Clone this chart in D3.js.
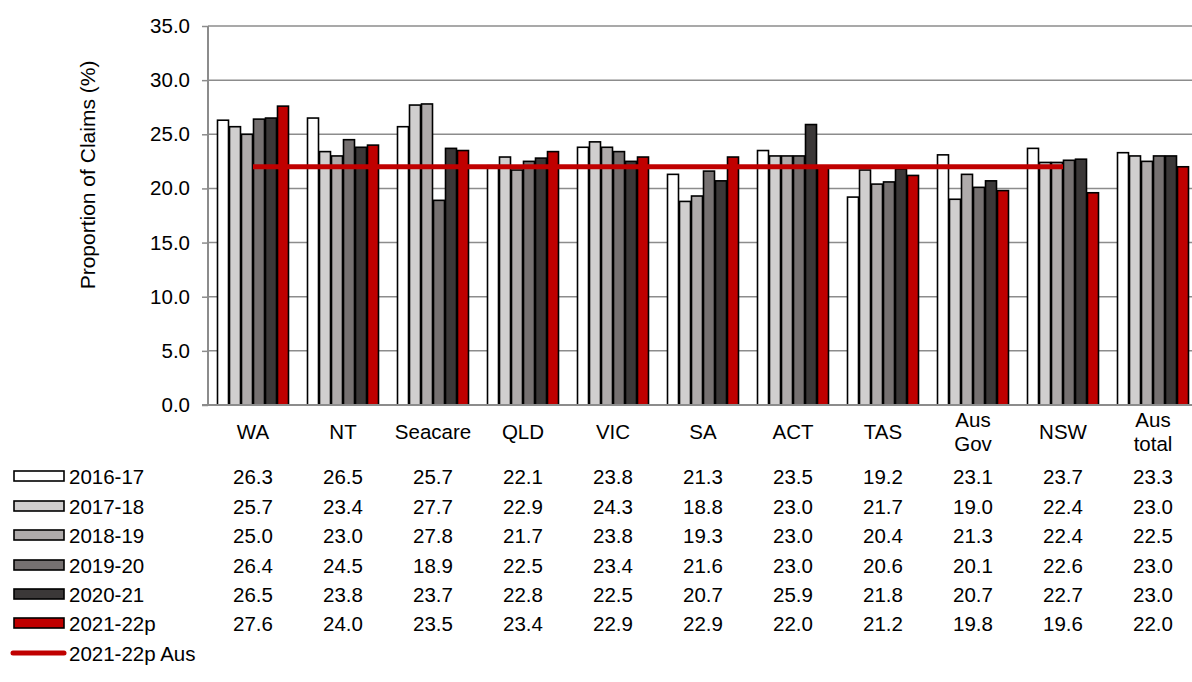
<!DOCTYPE html>
<html><head><meta charset="utf-8">
<script src="https://cdn.jsdelivr.net/npm/d3@7"></script>
<style>body{margin:0;background:#fff}svg{display:block;font-family:Arial,"Liberation Sans",sans-serif}</style>
</head><body>
<svg id="c" width="1192" height="682"></svg>
<script>
const categories = ["WA","NT","Seacare","QLD","VIC","SA","ACT","TAS","Aus\nGov","NSW","Aus\ntotal"];
const seriesNames = ["2016-17","2017-18","2018-19","2019-20","2020-21","2021-22p"];
const s2016 = [26.3,26.5,25.7,22.1,23.8,21.3,23.5,19.2,23.1,23.7,23.3];
const s2017 = [25.7,23.4,27.7,22.9,24.3,18.8,23.0,21.7,19.0,22.4,23.0];
const s2018 = [25.0,23.0,27.8,21.7,23.8,19.3,23.0,20.4,21.3,22.4,22.5];
const s2019 = [26.4,24.5,18.9,22.5,23.4,21.6,23.0,20.6,20.1,22.6,23.0];
const s2020 = [26.5,23.8,23.7,22.8,22.5,20.7,25.9,21.8,20.7,22.7,23.0];
const s2021 = [27.6,24.0,23.5,23.4,22.9,22.9,22.0,21.2,19.8,19.6,22.0];
const ausLine = [22.0,22.0,22.0,22.0,22.0,22.0,22.0,22.0,22.0,22.0,null];
const lineName = "2021-22p Aus";
const yTicks = [0,5,10,15,20,25,30,35];
const colors = ["#FFFFFF","#D0CECE","#AFABAB","#767171","#3B3838","#C00000"];
const series = [s2016,s2017,s2018,s2019,s2020,s2021];

(function(){
const svg = d3.select("#c");
const pL = 208, pT = 26, pB = 405;
const FS = 20.5;
const x0 = d3.scaleBand().domain(d3.range(categories.length)).range([pL, pL+90*categories.length]);
const y = d3.scaleLinear().domain([0,35]).range([pB, pT]);

// gridlines
svg.append("g").selectAll("line").data(yTicks.filter(d=>d>0)).join("line")
  .attr("x1", pL).attr("x2", 1192).attr("y1", d=>y(d)).attr("y2", d=>y(d))
  .attr("stroke","#8c8c8c").attr("stroke-width",1.5);

// y axis
const yAxis = d3.axisLeft(y).tickValues(yTicks).tickFormat(d3.format(".1f")).tickSize(6).tickPadding(12);
const ga = svg.append("g").attr("transform",`translate(${pL},0)`).call(yAxis);
ga.select(".domain").attr("stroke","#8c8c8c").attr("stroke-width",2).attr("d",`M0,${pT}V${pB}`);
ga.selectAll(".tick line").attr("stroke","#8c8c8c").attr("stroke-width",1.5);
ga.selectAll(".tick text").attr("font-size",FS).attr("fill","#000").attr("font-family","Arial, Liberation Sans, sans-serif");

// bars
const inner = d3.scaleBand().domain(d3.range(6)).range([0, 72]);
const groups = svg.append("g").selectAll("g").data(categories.map((c,i)=>i)).join("g")
  .attr("transform", i=>`translate(${x0(i)+x0.bandwidth()/2-36},0)`);
groups.selectAll("rect").data(i=>series.map((s,k)=>({k, v:s[i]}))).join("rect")
  .attr("x", d=>inner(d.k)+0.5).attr("width", inner.bandwidth()-1)
  .attr("y", d=>y(d.v)).attr("height", d=>y(0)-y(d.v))
  .attr("fill", d=>colors[d.k]).attr("stroke","#000").attr("stroke-width",1.6);

// x axis line
svg.append("line").attr("x1",pL-6).attr("x2",1192).attr("y1",pB).attr("y2",pB)
  .attr("stroke","#8c8c8c").attr("stroke-width",2);

// line series
const lineGen = d3.line().defined(d=>d!=null).x((d,i)=>x0(i)+x0.bandwidth()/2).y(d=>y(d));
svg.append("path").datum(ausLine).attr("d", lineGen).attr("fill","none")
  .attr("stroke","#C00000").attr("stroke-width",5);

// y title
svg.append("text").attr("transform","translate(95,175) rotate(-90)").attr("text-anchor","middle")
  .attr("font-size",21).text("Proportion of Claims (%)");

// category labels
categories.forEach((c,i)=>{
  const lines = c.split("\n");
  const cx = x0(i)+x0.bandwidth()/2;
  const t = svg.append("text").attr("text-anchor","middle").attr("font-size",FS);
  if(lines.length===1){
    t.append("tspan").attr("x",cx).attr("y",439).text(lines[0]);
  } else {
    t.append("tspan").attr("x",cx).attr("y",427).text(lines[0]);
    t.append("tspan").attr("x",cx).attr("y",451).text(lines[1]);
  }
});

// data table rows
const rowY = [476,506,535,565,594,623];
series.forEach((s,k)=>{
  svg.append("rect").attr("x",14).attr("y",rowY[k]-5).attr("width",50).attr("height",10)
    .attr("fill",colors[k]).attr("stroke","#000").attr("stroke-width",1.6);
  svg.append("text").attr("x",69).attr("y",rowY[k]+7.5).attr("font-size",FS).text(seriesNames[k]);
  svg.append("g").selectAll("text").data(s).join("text")
    .attr("x",(d,i)=>x0(i)+x0.bandwidth()/2).attr("y",rowY[k]+7.5)
    .attr("text-anchor","middle").attr("font-size",FS).text(d=>d.toFixed(1));
});
svg.append("line").attr("x1",13).attr("x2",64).attr("y1",653).attr("y2",653)
  .attr("stroke","#C00000").attr("stroke-width",5).attr("stroke-linecap","round");
svg.append("text").attr("x",69).attr("y",660.5).attr("font-size",FS).text(lineName);
})();
</script>
</body></html>
